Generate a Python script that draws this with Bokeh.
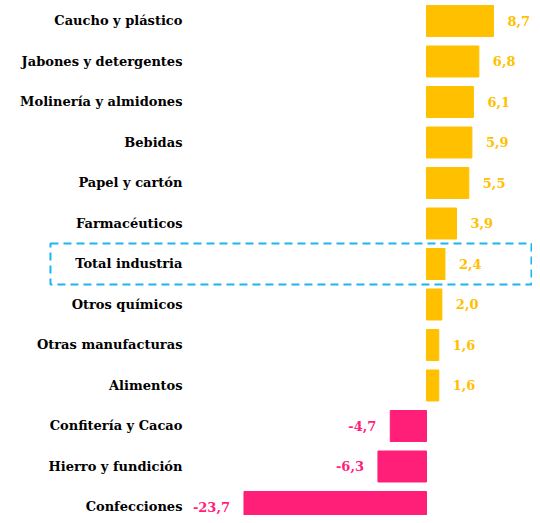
from bokeh.plotting import figure
from bokeh.models import ColumnDataSource, Range1d
from bokeh.core.properties import value
from bokeh.embed import file_html
from bokeh.resources import INLINE

categories = ["Caucho y plástico", "Jabones y detergentes", "Molinería y almidones",
              "Bebidas", "Papel y cartón", "Farmacéuticos", "Total industria",
              "Otros químicos", "Otras manufacturas", "Alimentos",
              "Confitería y Cacao", "Hierro y fundición", "Confecciones"]
values = [8.7, 6.8, 6.1, 5.9, 5.5, 3.9, 2.4, 2.0, 1.6, 1.6, -4.7, -6.3, -23.7]
highlight = "Total industria"

POS = "#FFC000"
NEG = "#FF1F78"
FONT = "DejaVu Serif"

n = len(categories)
rows = [n - 1 - i for i in range(n)]  # top-to-bottom order

src = ColumnDataSource(dict(
    cat=categories,
    row=rows,
    val=values,
    color=[POS if v >= 0 else NEG for v in values],
    lbl=[f"{v:.1f}".replace(".", ",") for v in values],
    align=["left" if v >= 0 else "right" for v in values],
    off=[14 if v >= 0 else -14 for v in values],
    lx=[-31.69] * n,
))

p = figure(width=532, height=515, output_backend="svg", toolbar_location=None,
           y_range=Range1d(-0.21, 12.506), x_range=Range1d(-55.32, 13.77),
           min_border=0, outline_line_color=None)
p.axis.visible = False
p.grid.visible = False

p.hbar(y="row", left=0, right="val", height=0.765, color="color", source=src)

p.text(x="val", y="row", text="lbl", text_align="align", x_offset="off",
       text_baseline="middle", text_color="color", text_font=value(FONT),
       text_font_style="bold", text_font_size="13px", source=src)

p.text(x="lx", y="row", text="cat", text_align="right", text_baseline="middle",
       text_color="black", text_font=value(FONT), text_font_style="bold",
       text_font_size="13px", source=src)

hrow = rows[categories.index(highlight)]
p.rect(x=[(-48.83 + 13.64) / 2], y=[hrow], width=[13.64 + 48.83], height=1.01,
       fill_alpha=0, line_color="#1CB5EE", line_width=2, line_dash="8 5")

open("out.html", "w").write(file_html(p, INLINE))
